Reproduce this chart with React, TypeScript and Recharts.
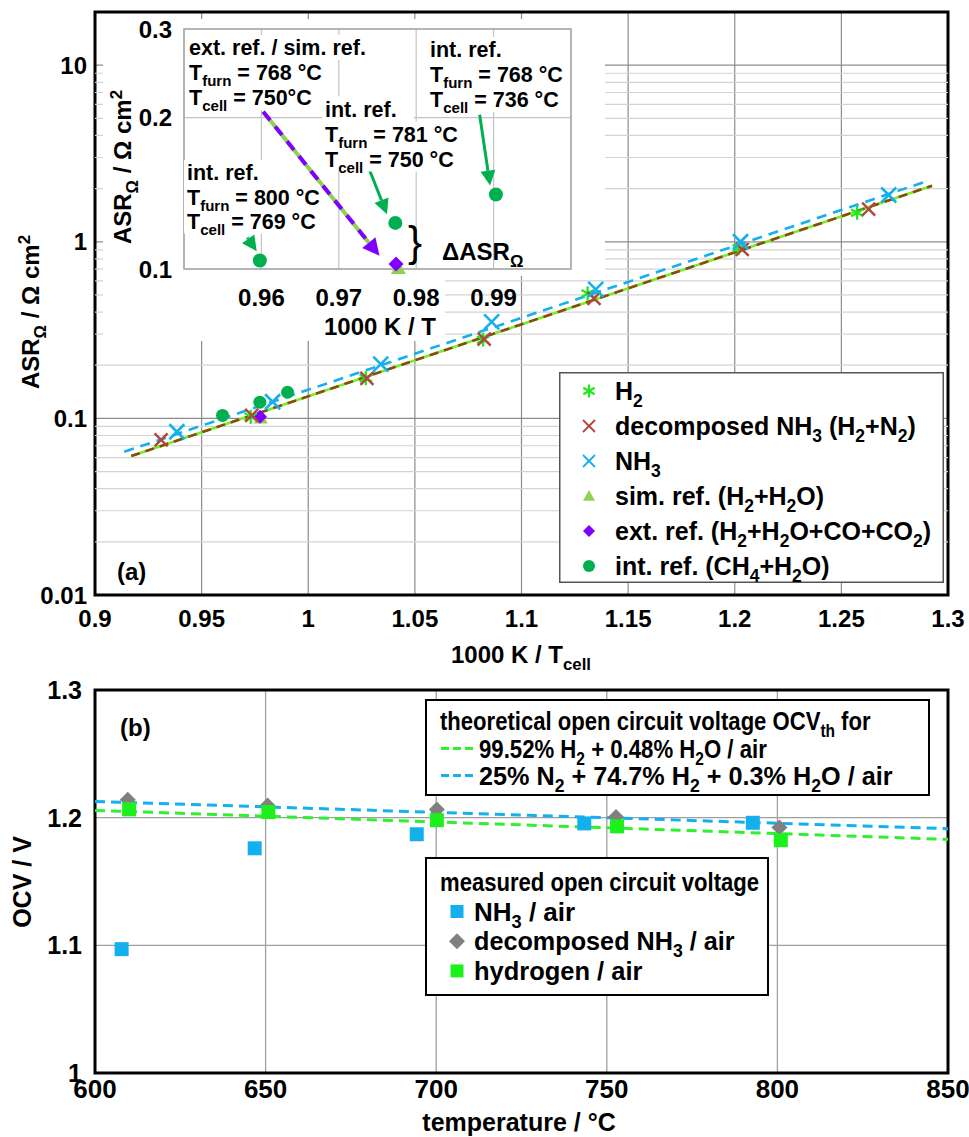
import React from 'react';
import {
  ComposedChart,
  Scatter,
  XAxis,
  YAxis,
  CartesianGrid,
  ReferenceLine,
  ReferenceArea,
  Legend,
} from 'recharts';

const FONT = '"Liberation Sans", Arial, Helvetica, sans-serif';

// ---------------- (a) ASR vs 1000 K / T_cell ----------------
const A_X_TICKS = [0.9, 0.95, 1, 1.05, 1.1, 1.15, 1.2, 1.25, 1.3];
const A_Y_TICKS = [0.01, 0.1, 1, 10];
const A_MINOR = [0.02, 0.03, 0.04, 0.05, 0.06, 0.07, 0.08, 0.09, 0.2, 0.3, 0.4, 0.5, 0.6, 0.7, 0.8, 0.9, 2, 3, 4, 5, 6, 7, 8, 9];

const H2_PTS = [
  { x: 0.973, y: 0.102 },
  { x: 1.027, y: 0.169 },
  { x: 1.082, y: 0.279 },
  { x: 1.131, y: 0.51 },
  { x: 1.2018, y: 0.92 },
  { x: 1.2574, y: 1.46 },
];
const DEC_PTS = [
  { x: 0.931, y: 0.0755 },
  { x: 0.9735, y: 0.104 },
  { x: 1.0275, y: 0.1685 },
  { x: 1.0825, y: 0.281 },
  { x: 1.134, y: 0.478 },
  { x: 1.2035, y: 0.905 },
  { x: 1.2628, y: 1.53 },
];
const NH3_PTS = [
  { x: 0.9384, y: 0.084 },
  { x: 0.9833, y: 0.1242 },
  { x: 1.034, y: 0.203 },
  { x: 1.086, y: 0.352 },
  { x: 1.1348, y: 0.538 },
  { x: 1.2027, y: 1.0 },
  { x: 1.2722, y: 1.84 },
];
const SIM_PTS = [{ x: 0.9777, y: 0.1005 }];
const EXT_PTS = [{ x: 0.9774, y: 0.1023 }];
const INT_PTS = [
  { x: 0.9598, y: 0.104 },
  { x: 0.9773, y: 0.1235 },
  { x: 0.9903, y: 0.1406 },
];
const FIT_H2 = [
  { x: 0.917, y: 0.0612 },
  { x: 1.2925, y: 2.075 },
];
const FIT_DEC = [
  { x: 0.917, y: 0.0612 },
  { x: 1.2925, y: 2.075 },
];
const FIT_NH3 = [
  { x: 0.9137, y: 0.0647 },
  { x: 1.2894, y: 2.19 },
];

// inset
const IN_X_TICKS = [0.96, 0.97, 0.98, 0.99];
const IN_Y_TICKS = [0.1, 0.2, 0.3];
const IN_ARROWS_INT = [
  [{ x: 0.9882, y: 0.2026 }, { x: 0.98955, y: 0.1465 }],
  [{ x: 0.9738, y: 0.1597 }, { x: 0.97623, y: 0.1285 }],
  [{ x: 0.95818, y: 0.1154 }, { x: 0.9594, y: 0.1085 }],
];
const IN_ARROW_EXT = [{ x: 0.96023, y: 0.2054 }, { x: 0.97526, y: 0.1062 }];

// ---------------- (b) OCV vs temperature ----------------
const B_X_TICKS = [600, 650, 700, 750, 800, 850];
const B_Y_TICKS = [1, 1.1, 1.2, 1.3];
const OCV_NH3 = [
  { x: 607.8, y: 1.097 },
  { x: 646.8, y: 1.176 },
  { x: 694.3, y: 1.187 },
  { x: 743.4, y: 1.1955 },
  { x: 792.8, y: 1.196 },
];
const OCV_DEC = [
  { x: 609.6, y: 1.214 },
  { x: 650.6, y: 1.2095 },
  { x: 700.2, y: 1.2063 },
  { x: 752.7, y: 1.2005 },
  { x: 800.6, y: 1.1922 },
];
const OCV_H2 = [
  { x: 610, y: 1.2065 },
  { x: 650.8, y: 1.2044 },
  { x: 700.2, y: 1.198 },
  { x: 753, y: 1.1932 },
  { x: 801, y: 1.1823 },
];
const OCV_TH_H2 = [
  { x: 600, y: 1.2057 },
  { x: 850, y: 1.183 },
];
const OCV_TH_N2 = [
  { x: 600, y: 1.2127 },
  { x: 850, y: 1.1914 },
];

// colours
const C_NH3 = '#14b0ee';
const C_DEC = '#b0473d';
const C_H2 = '#22e622';
const C_H2FIT = '#74f020';
const C_DECFIT = '#8a4a12';
const C_SIM = '#92d050';
const C_EXT = '#8000ff';
const C_INT = '#00b050';
const C_GRAY = '#808080';
const C_GREEN_SQ = '#1ef01e';
const C_TH_H2 = '#2ef02e';

// ---------- rich text helper ----------
type Seg = { t: string; k: 'n' | 'sub' | 'sup' };
function parseRich(s: string): Seg[] {
  const out: Seg[] = [];
  let buf = '';
  let i = 0;
  while (i < s.length) {
    if ((s[i] === '_' || s[i] === '^') && s[i + 1] === '{') {
      if (buf) {
        out.push({ t: buf, k: 'n' });
        buf = '';
      }
      const end = s.indexOf('}', i);
      out.push({ t: s.slice(i + 2, end), k: s[i] === '_' ? 'sub' : 'sup' });
      i = end + 1;
    } else {
      buf += s[i];
      i++;
    }
  }
  if (buf) out.push({ t: buf, k: 'n' });
  return out;
}

function Rich(props: any) {
  const { x, y, text, size, anchor = 'start', rotate = false, weight = 'bold', fill = '#000', sx = 1 } = props;
  const segs = parseRich(text);
  let cur = 0;
  let transform: string | undefined;
  if (rotate) transform = `translate(${x} ${y}) rotate(-90) scale(${sx} 1)`;
  else transform = `translate(${x} ${y}) scale(${sx} 1)`;
  return (
    <text
      x={0}
      y={0}
      fontFamily={FONT}
      fontSize={size}
      fontWeight={weight}
      fill={fill}
      textAnchor={anchor}
      transform={transform}
    >
      {segs.map((s, i) => {
        const target = s.k === 'sub' ? size * 0.28 : s.k === 'sup' ? -size * 0.38 : 0;
        const dy = target - cur;
        cur = target;
        return (
          <tspan key={i} dy={dy !== 0 ? dy : undefined} fontSize={s.k === 'n' ? size : size * 0.7}>
            {s.t}
          </tspan>
        );
      })}
    </text>
  );
}

// ---------- marker shapes ----------
const asteriskAt = (cx: number, cy: number, r = 7) => (
  <g stroke={C_H2} strokeWidth={2.3}>
    <line x1={cx} y1={cy - r} x2={cx} y2={cy + r} />
    <line x1={cx - r * 0.87} y1={cy - r * 0.5} x2={cx + r * 0.87} y2={cy + r * 0.5} />
    <line x1={cx - r * 0.87} y1={cy + r * 0.5} x2={cx + r * 0.87} y2={cy - r * 0.5} />
  </g>
);
const crossAt = (cx: number, cy: number, color: string, r: number, w: number) => (
  <g stroke={color} strokeWidth={w}>
    <line x1={cx - r} y1={cy - r} x2={cx + r} y2={cy + r} />
    <line x1={cx - r} y1={cy + r} x2={cx + r} y2={cy - r} />
  </g>
);
const triangleAt = (cx: number, cy: number, color: string, r = 7) => (
  <polygon points={`${cx},${cy - r} ${cx + r},${cy + r * 0.8} ${cx - r},${cy + r * 0.8}`} fill={color} />
);
const diamondAt = (cx: number, cy: number, color: string, r = 7) => (
  <polygon points={`${cx},${cy - r} ${cx + r},${cy} ${cx},${cy + r} ${cx - r},${cy}`} fill={color} />
);
const circleAt = (cx: number, cy: number, color: string, r = 6.5) => <circle cx={cx} cy={cy} r={r} fill={color} />;
const squareAt = (cx: number, cy: number, color: string, s = 14) => (
  <rect x={cx - s / 2} y={cy - s / 2} width={s} height={s} fill={color} />
);

const guard = (f: (cx: number, cy: number) => any) => (p: any) =>
  p && p.cx != null && p.cy != null ? f(p.cx, p.cy) : <g />;

const ShapeH2 = guard((cx, cy) => asteriskAt(cx, cy));
const ShapeDec = guard((cx, cy) => crossAt(cx, cy, C_DEC, 6.5, 2.4));
const ShapeNH3 = guard((cx, cy) => crossAt(cx, cy, C_NH3, 7.5, 2.6));
const ShapeSim = guard((cx, cy) => triangleAt(cx, cy, C_SIM));
const ShapeExt = guard((cx, cy) => diamondAt(cx, cy, C_EXT, 7));
const ShapeInt = guard((cx, cy) => circleAt(cx, cy, C_INT));
const ShapeNone = () => <g />;
const ShapeBNH3 = guard((cx, cy) => squareAt(cx, cy, C_NH3, 14));
const ShapeBDec = guard((cx, cy) => diamondAt(cx, cy, C_GRAY, 8));
const ShapeBH2 = guard((cx, cy) => squareAt(cx, cy, C_GREEN_SQ, 14));

const arrowShape = (color: string, width: number, head: number, dash?: string) => (p: any) => {
  const x1 = Number(p.x1);
  const y1 = Number(p.y1);
  const x2 = Number(p.x2);
  const y2 = Number(p.y2);
  if (![x1, y1, x2, y2].every((v) => isFinite(v))) return <g />;
  const dx = x2 - x1;
  const dy = y2 - y1;
  const L = Math.hypot(dx, dy) || 1;
  const ux = dx / L;
  const uy = dy / L;
  const bx = x2 - ux * head;
  const by = y2 - uy * head;
  const px = -uy;
  const py = ux;
  const hw = head * 0.5;
  return (
    <g>
      <line x1={x1} y1={y1} x2={bx} y2={by} stroke={color} strokeWidth={width} />
      {dash ? <line x1={x1} y1={y1} x2={bx} y2={by} stroke={dash} strokeWidth={width} strokeDasharray="11 8" /> : null}
      <polygon
        points={`${x2},${y2} ${bx + px * hw},${by + py * hw} ${bx - px * hw},${by - py * hw}`}
        fill={dash || color}
      />
    </g>
  );
};

// ---------- legends ----------
const TOP_LEGEND_ITEMS = [
  { label: 'H_{2}', draw: (cx: number, cy: number) => asteriskAt(cx, cy, 6.5) },
  { label: 'decomposed NH_{3} (H_{2}+N_{2})', draw: (cx: number, cy: number) => crossAt(cx, cy, C_DEC, 6, 1.8) },
  { label: 'NH_{3}', draw: (cx: number, cy: number) => crossAt(cx, cy, C_NH3, 6, 1.8) },
  { label: 'sim. ref. (H_{2}+H_{2}O)', draw: (cx: number, cy: number) => triangleAt(cx, cy, C_SIM, 6) },
  { label: 'ext. ref. (H_{2}+H_{2}O+CO+CO_{2})', draw: (cx: number, cy: number) => diamondAt(cx, cy, C_EXT, 6) },
  { label: 'int. ref. (CH_{4}+H_{2}O)', draw: (cx: number, cy: number) => circleAt(cx, cy, C_INT, 6) },
];

const TopLegendBox = () => (
  <svg width={385} height={211} style={{ display: 'block', overflow: 'visible' }}>
    <rect x={0.75} y={0.75} width={383.5} height={209.5} fill="#fff" stroke="#555" strokeWidth={1.5} />
    {TOP_LEGEND_ITEMS.map((it, i) => {
      const cy = 19 + i * 35;
      return (
        <g key={i}>
          {it.draw(30, cy)}
          <Rich x={56} y={cy + 8.5} text={it.label} size={25} />
        </g>
      );
    })}
  </svg>
);

const TH_LEGEND_TITLE = 'theoretical open circuit voltage OCV_{th} for';
const TH_LEGEND_ROWS = [
  { label: '99.52% H_{2} + 0.48% H_{2}O / air', color: C_TH_H2, sx: 0.853 },
  { label: '25% N_{2} + 74.7% H_{2} + 0.3% H_{2}O / air', color: C_NH3, sx: 0.97 },
];
const MEAS_LEGEND_TITLE = 'measured open circuit voltage';
const MEAS_LEGEND_ROWS = [
  { label: 'NH_{3} / air', marker: 'sqBlue', sx: 1.0 },
  { label: 'decomposed NH_{3} / air', marker: 'diamond', sx: 0.97 },
  { label: 'hydrogen / air', marker: 'sqGreen', sx: 0.98 },
];

const BottomLegendBox = () => (
  <div style={{ position: 'relative', width: 506, height: 300 }}>
    <svg width={506} height={98} style={{ position: 'absolute', left: 0, top: 0, overflow: 'visible' }}>
      <rect x={1} y={1} width={503} height={95} fill="#fff" stroke="#000" strokeWidth={2} />
      <Rich x={15} y={31} text={TH_LEGEND_TITLE} size={26} sx={0.85} />
      {TH_LEGEND_ROWS.map((r, i) => {
        const cy = 49.5 + i * 27;
        return (
          <g key={i}>
            <line x1={16} y1={cy} x2={48} y2={cy} stroke={r.color} strokeWidth={3} strokeDasharray="8 4" />
            <Rich x={54} y={cy + 9} text={r.label} size={26} sx={r.sx} />
          </g>
        );
      })}
    </svg>
    <svg width={346} height={141} style={{ position: 'absolute', left: 0, top: 157.5, overflow: 'visible' }}>
      <rect x={1} y={1} width={342} height={137} fill="#fff" stroke="#000" strokeWidth={2} />
      <Rich x={15} y={33.5} text={MEAS_LEGEND_TITLE} size={26} sx={0.85} />
      {MEAS_LEGEND_ROWS.map((r, i) => {
        const cy = 54.5 + i * 29.7;
        return (
          <g key={i}>
            {r.marker === 'sqBlue'
              ? squareAt(32, cy, C_NH3, 13)
              : r.marker === 'diamond'
              ? diamondAt(32, cy, C_GRAY, 8)
              : squareAt(32, cy, C_GREEN_SQ, 13)}
            <Rich x={49} y={cy + 9} text={r.label} size={26} sx={r.sx} />
          </g>
        );
      })}
    </svg>
  </div>
);

// ---------- inset annotations ----------
const INSET_NOTES = [
  { x: 189, ys: [47.5, 72.5, 97.5], lines: ['ext. ref. / sim. ref.', 'T_{furn} = 768 °C', 'T_{cell} = 750°C'], w: [178, 136, 124] },
  { x: 325, ys: [109, 134, 159], lines: ['int. ref.', 'T_{furn} = 781 °C', 'T_{cell} = 750 °C'], w: [92, 136, 130] },
  { x: 430, ys: [49.5, 74.5, 99.5], lines: ['int. ref.', 'T_{furn} = 768 °C', 'T_{cell} = 736 °C'], w: [92, 136, 130] },
  { x: 187, ys: [172.5, 197, 221], lines: ['int. ref.', 'T_{furn} = 800 °C', 'T_{cell} = 769 °C'], w: [92, 136, 130] },
];

const tickStyle = (size: number) => ({ fontSize: size, fontWeight: 'bold', fill: '#000', fontFamily: FONT });

export default function App() {
  return (
    <div
      style={{
        position: 'absolute',
        left: 0,
        top: 0,
        width: 969,
        height: 1137,
        background: '#fff',
        overflow: 'hidden',
        fontFamily: FONT,
      }}
    >
      {/* ---------------- main chart (a) ---------------- */}
      <div style={{ position: 'absolute', left: 0, top: 0 }}>
        <ComposedChart width={969} height={670} margin={{ top: 12, right: 21, bottom: 0, left: 0 }}>
          <CartesianGrid stroke="#8c8c8c" strokeWidth={1.2} />
          {A_MINOR.map((v) => (
            <ReferenceLine key={v} y={v} stroke="#d3d3d3" strokeWidth={1.2} />
          ))}
          <XAxis
            dataKey="x"
            type="number"
            domain={[0.9, 1.3]}
            ticks={A_X_TICKS}
            allowDataOverflow
            axisLine={false}
            tickLine={false}
            tickSize={0}
            tickMargin={15}
            height={75}
            interval={0}
            tickFormatter={(v: number) => String(v)}
            tick={tickStyle(24)}
          />
          <YAxis
            dataKey="y"
            type="number"
            scale="log"
            domain={[0.01, 20]}
            ticks={A_Y_TICKS}
            allowDataOverflow
            axisLine={false}
            tickLine={false}
            tickSize={0}
            tickMargin={8}
            width={95}
            interval={0}
            tickFormatter={(v: number) => String(v)}
            tick={tickStyle(24)}
          />
          <Scatter data={FIT_NH3} shape={ShapeNone} line={{ stroke: C_NH3, strokeWidth: 2.6, strokeDasharray: '10 7' }} isAnimationActive={false} />
          <Scatter data={FIT_H2} shape={ShapeNone} line={{ stroke: C_H2FIT, strokeWidth: 2.6 }} isAnimationActive={false} />
          <Scatter data={FIT_DEC} shape={ShapeNone} line={{ stroke: C_DECFIT, strokeWidth: 2.6, strokeDasharray: '9 6' }} isAnimationActive={false} />
          <Scatter data={INT_PTS} shape={ShapeInt} isAnimationActive={false} />
          <Scatter data={SIM_PTS} shape={ShapeSim} isAnimationActive={false} />
          <Scatter data={EXT_PTS} shape={ShapeExt} isAnimationActive={false} />
          <Scatter data={H2_PTS} shape={ShapeH2} isAnimationActive={false} />
          <Scatter data={DEC_PTS} shape={ShapeDec} isAnimationActive={false} />
          <Scatter data={NH3_PTS} shape={ShapeNH3} isAnimationActive={false} />
          <ReferenceArea x1={0.9} x2={1.3} y1={0.01} y2={20} fill="none" fillOpacity={0} stroke="#000" strokeWidth={3} ifOverflow="visible" />
          <Legend
            layout="vertical"
            align="center"
            verticalAlign="middle"
            content={() => <TopLegendBox />}
            wrapperStyle={{ left: 559, top: 372, width: 385, height: 211 }}
          />
        </ComposedChart>
      </div>

      {/* white background of the inset */}
      <div style={{ position: 'absolute', left: 103, top: 19, width: 502, height: 257, background: '#fff' }} />
      <div style={{ position: 'absolute', left: 103, top: 276, width: 342, height: 65, background: '#fff' }} />

      {/* ---------------- inset ---------------- */}
      <div style={{ position: 'absolute', left: 0, top: 0 }}>
        <ComposedChart width={620} height={345} margin={{ top: 29, right: 49, bottom: 0, left: 0 }}>
          <CartesianGrid stroke="#c4c4c4" strokeWidth={1.2} />
          <XAxis
            dataKey="x"
            type="number"
            domain={[0.95, 1.0]}
            ticks={IN_X_TICKS}
            axisLine={false}
            tickLine={false}
            tickSize={0}
            tickMargin={20}
            height={76}
            interval={0}
            tickFormatter={(v: number) => v.toFixed(2)}
            tick={tickStyle(24)}
          />
          <YAxis
            dataKey="y"
            type="number"
            scale="log"
            domain={[0.1, 0.3]}
            ticks={IN_Y_TICKS}
            axisLine={false}
            tickLine={false}
            tickSize={0}
            tickMargin={12}
            width={184}
            interval={0}
            tickFormatter={(v: number) => String(v)}
            tick={tickStyle(24)}
          />
          <ReferenceArea x1={0.95} x2={1.0} y1={0.1} y2={0.3} fill="none" fillOpacity={0} stroke="#a6a6a6" strokeWidth={1.5} ifOverflow="visible" />
          {IN_ARROWS_INT.map((seg, i) => (
            <ReferenceLine key={i} segment={seg} shape={arrowShape(C_INT, 3, 15)} ifOverflow="visible" />
          ))}
          <ReferenceLine segment={IN_ARROW_EXT} shape={arrowShape(C_SIM, 4, 17, C_EXT)} ifOverflow="visible" />
          <Scatter data={INT_PTS} shape={guard((cx, cy) => circleAt(cx, cy, C_INT, 7))} isAnimationActive={false} />
          <Scatter data={SIM_PTS} shape={guard((cx, cy) => triangleAt(cx, cy, C_SIM, 7.5))} isAnimationActive={false} />
          <Scatter data={EXT_PTS} shape={guard((cx, cy) => diamondAt(cx, cy, C_EXT, 7.5))} isAnimationActive={false} />
        </ComposedChart>
      </div>

      {/* ---------------- chart (b) ---------------- */}
      <div style={{ position: 'absolute', left: 0, top: 670 }}>
        <ComposedChart width={969} height={467} margin={{ top: 20, right: 21, bottom: 0, left: 0 }}>
          <CartesianGrid stroke="#a0a0a0" strokeWidth={1.3} />
          <XAxis
            dataKey="x"
            type="number"
            domain={[600, 850]}
            ticks={B_X_TICKS}
            allowDataOverflow
            axisLine={false}
            tickLine={false}
            tickSize={0}
            tickMargin={7}
            height={64}
            interval={0}
            tick={tickStyle(26)}
          />
          <YAxis
            dataKey="y"
            type="number"
            domain={[1, 1.3]}
            ticks={B_Y_TICKS}
            allowDataOverflow
            axisLine={false}
            tickLine={false}
            tickSize={0}
            tickMargin={13}
            width={95}
            interval={0}
            tickFormatter={(v: number) => String(v)}
            tick={tickStyle(25)}
          />
          <Scatter data={OCV_TH_N2} shape={ShapeNone} line={{ stroke: C_NH3, strokeWidth: 3, strokeDasharray: '10 6' }} isAnimationActive={false} />
          <Scatter data={OCV_TH_H2} shape={ShapeNone} line={{ stroke: C_TH_H2, strokeWidth: 3, strokeDasharray: '10 6' }} isAnimationActive={false} />
          <Scatter data={OCV_DEC} shape={ShapeBDec} isAnimationActive={false} />
          <Scatter data={OCV_H2} shape={ShapeBH2} isAnimationActive={false} />
          <Scatter data={OCV_NH3} shape={ShapeBNH3} isAnimationActive={false} />
          <ReferenceArea x1={600} x2={850} y1={1} y2={1.3} fill="none" fillOpacity={0} stroke="#000" strokeWidth={3} ifOverflow="visible" />
          <Legend
            layout="vertical"
            align="center"
            verticalAlign="middle"
            content={() => <BottomLegendBox />}
            wrapperStyle={{ left: 425, top: 29, width: 506, height: 300 }}
          />
        </ComposedChart>
      </div>

      {/* ---------------- titles and annotations ---------------- */}
      <svg
        width={969}
        height={1137}
        style={{ position: 'absolute', left: 0, top: 0, pointerEvents: 'none' }}
      >
        <Rich x={39} y={312} text="ASR_{Ω} / Ω cm^{2}" size={24} anchor="middle" rotate />
        <Rich x={521} y={663} text="1000 K / T_{cell}" size={24} anchor="middle" />
        <Rich x={117} y={580} text="(a)" size={24} />

        <Rich x={131} y={167} text="ASR_{Ω} / Ω cm^{2}" size={24} anchor="middle" rotate />
        <Rich x={380} y={335} text="1000 K / T" size={24} anchor="middle" />

        {INSET_NOTES.map((n, i) => (
          <g key={i}>
            {n.lines.map((l, j) => (
              <rect key={'r' + j} x={n.x - 3} y={n.ys[j] - 12.5} width={n.w[j]} height={25} fill="#fff" />
            ))}
            {n.lines.map((l, j) => (
              <Rich key={'t' + j} x={n.x} y={n.ys[j] + 7.8} text={l} size={21.5} />
            ))}
          </g>
        ))}
        <text x={408} y={256} fontFamily={FONT} fontSize={42} fill="#000">
          {'}'}
        </text>
        <Rich x={442} y={260} text="ΔASR_{Ω}" size={24} />

        <Rich x={31} y={882} text="OCV / V" size={25} anchor="middle" rotate />
        <Rich x={519} y={1131} text="temperature / °C" size={25} anchor="middle" />
        <Rich x={120} y={736} text="(b)" size={24} />
      </svg>
    </div>
  );
}
